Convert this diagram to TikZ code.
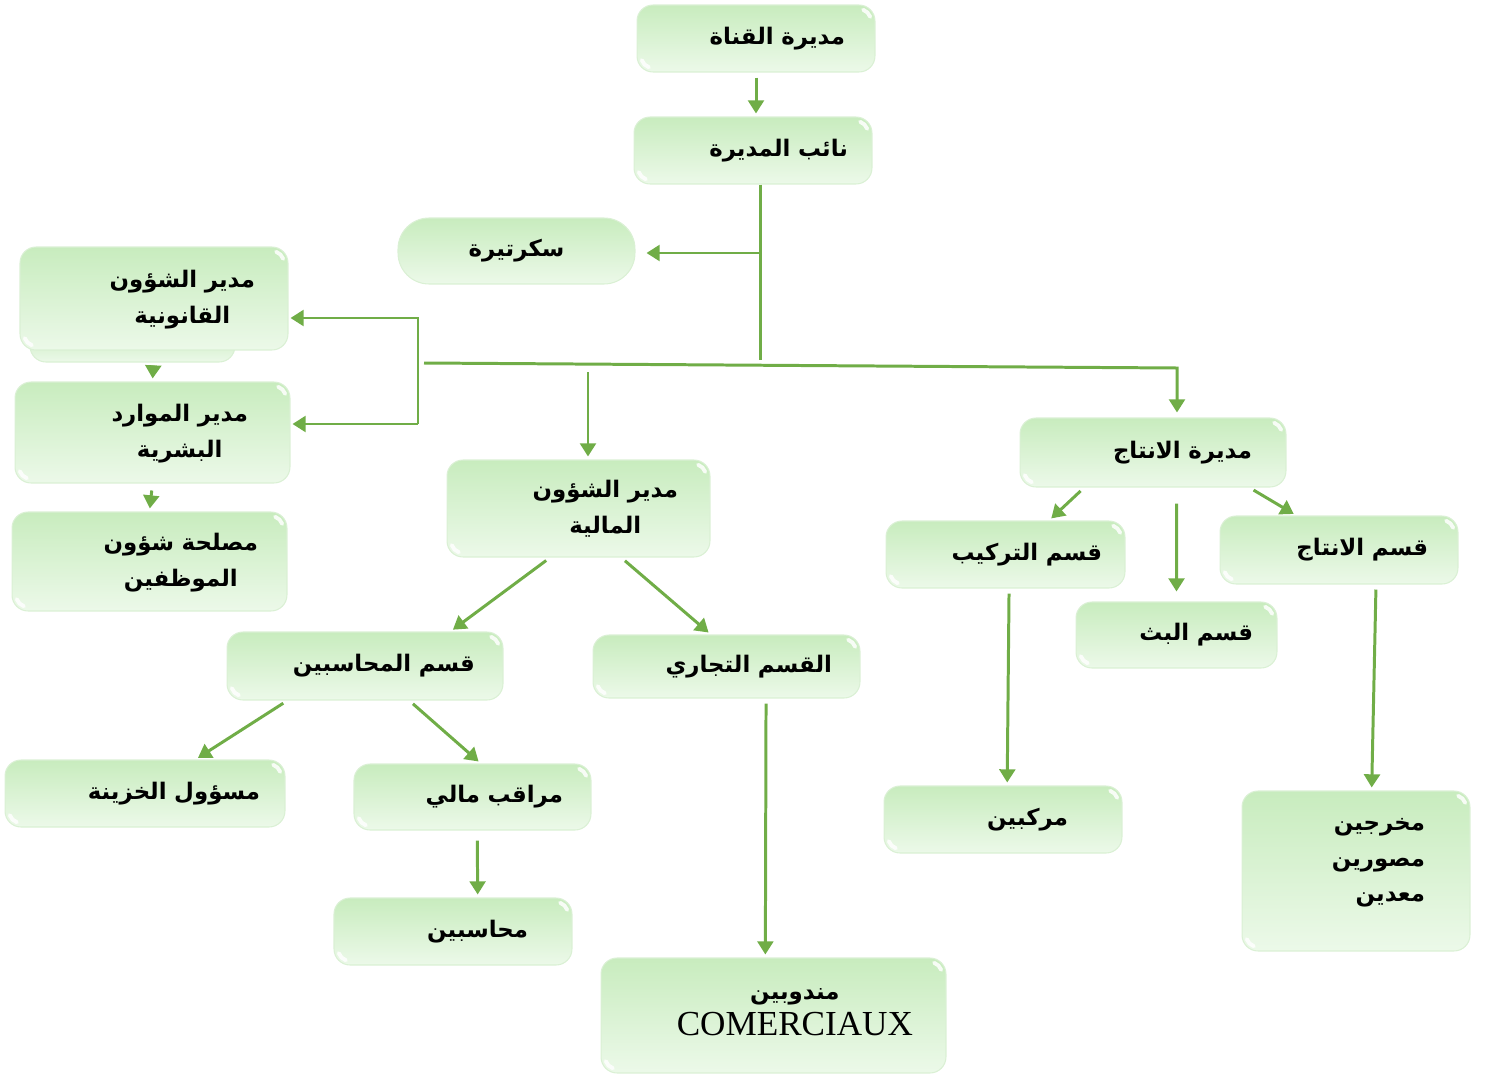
\documentclass[tikz,border=0pt]{standalone}
\usepackage{fontspec}
\usepackage{tikz}
\usetikzlibrary{arrows.meta}
\TeXXeTstate=1
\setmainfont{Liberation Serif}
\newfontfamily\arabicfont[Script=Arabic]{DejaVu Sans}
\definecolor{linkgreen}{RGB}{112,173,71}
\definecolor{boxtop}{RGB}{200,236,190}
\definecolor{boxbottom}{RGB}{236,249,233}
\definecolor{boxedge}{RGB}{218,240,212}

\begin{document}
\begin{tikzpicture}[x=0.02cm, y=-0.02cm,
        boxfill/.style={draw=boxedge, line width=0.6pt, top color=boxtop, bottom color=boxbottom, rounded corners=0.32cm},
        gloss/.style={white, line width=2.2pt, opacity=0.85, line cap=round},
        box/.style={boxfill, align=right, inner ysep=0pt, font=\arabicfont\bfseries\fontsize{13}{20}\selectfont,
            path picture={
                \draw [gloss] ([xshift=-0.32cm, yshift=-0.32cm]path picture bounding box.north east) ++(20:0.24cm) arc [start angle=20, end angle=70, radius=0.24cm];
                \draw [gloss] ([xshift=0.32cm, yshift=0.32cm]path picture bounding box.south west) ++(200:0.24cm) arc [start angle=200, end angle=250, radius=0.24cm];
            }},
        trunk/.style={draw=linkgreen, line width=1.7pt},
        link/.style={trunk, -{Triangle[length=7.5pt,width=9pt]}, shorten <=0.1cm, shorten >=0.06cm}]
            \useasboundingbox (0,0) rectangle (1485,1075);
            \path [boxfill] (30,330) rectangle (235,362);
            \node [box, text width=3.56cm, inner xsep=0.6cm, minimum height=1.34cm] (qanat) at (756,38.5) {\beginR مديرة القناة\endR};
            \node [box, text width=3.8cm, inner xsep=0.48cm, minimum height=1.34cm] (naib) at (753,150.5) {\beginR نائب المديرة\endR};
            \node [box, align=center, rounded corners=0.62cm, text width=3.54cm, inner xsep=0.6cm, minimum height=1.32cm] (sec) at (516.5,251) {\beginR سكرتيرة\endR};
            \node [box, text width=4.04cm, inner xsep=0.66cm, minimum height=2.06cm] (qanun) at (154,298.5) {\begin{tabular}{@{}c@{}}\beginR مدير الشؤون\endR\\\beginR القانونية\endR\end{tabular}};
            \node [box, text width=3.82cm, inner xsep=0.84cm, minimum height=2.02cm] (mawarid) at (152.5,432.5) {\begin{tabular}{@{}c@{}}\beginR مدير الموارد\endR\\\beginR البشرية\endR\end{tabular}};
            \node [box, text width=4.34cm, inner xsep=0.58cm, minimum height=1.98cm] (maslaha) at (149.5,561.5) {\begin{tabular}{@{}c@{}}\beginR مصلحة شؤون\endR\\\beginR الموظفين\endR\end{tabular}};
            \node [box, text width=3.98cm, inner xsep=0.64cm, minimum height=1.94cm] (maliya) at (578.5,508.5) {\begin{tabular}{@{}c@{}}\beginR مدير الشؤون\endR\\\beginR المالية\endR\end{tabular}};
            \node [box, text width=3.96cm, inner xsep=0.68cm, minimum height=1.38cm] (intaj) at (1153,452.5) {\beginR مديرة الانتاج\endR};
            \node [box, text width=3.86cm, inner xsep=0.46cm, minimum height=1.34cm] (tarkib) at (1005.5,554.5) {\beginR قسم التركيب\endR};
            \node [box, text width=3.56cm, inner xsep=0.6cm, minimum height=1.36cm] (qismintaj) at (1339,550) {\beginR قسم الانتاج\endR};
            \node [box, text width=3.06cm, inner xsep=0.48cm, minimum height=1.32cm] (bath) at (1176.5,635) {\beginR قسم البث\endR};
            \node [box, text width=4.4cm, inner xsep=0.56cm, minimum height=1.36cm] (muhasaba) at (365,666) {\beginR قسم المحاسبين\endR};
            \node [box, text width=4.22cm, inner xsep=0.56cm, minimum height=1.26cm] (tijari) at (726.5,666.5) {\beginR القسم التجاري\endR};
            \node [box, text width=4.6cm, inner xsep=0.5cm, minimum height=1.34cm] (khazina) at (145,793.5) {\beginR مسؤول الخزينة\endR};
            \node [box, text width=3.62cm, inner xsep=0.56cm, minimum height=1.32cm] (muraqib) at (472.5,797) {\beginR مراقب مالي\endR};
            \node [box, text width=3cm, inner xsep=0.88cm, minimum height=1.34cm] (muhasibin) at (453,931.5) {\beginR محاسبين\endR};
            \node [box, text width=5.58cm, inner xsep=0.66cm, minimum height=2.3cm] (mandubin) at (773.5,1015.5) {\raisebox{0.1cm}[\height][\depth]{\begin{tabular}{@{}c@{}}\beginR مندوبين\endR\\{\rmfamily\mdseries\fontsize{20}{21}\selectfont COMERCIAUX}\end{tabular}}};
            \node [box, text width=2.6cm, inner xsep=1.08cm, minimum height=1.34cm] (murakkibin) at (1003,819.5) {\beginR مركبين\endR};
            \node [box, text width=2.76cm, inner xsep=0.9cm, minimum height=3.2cm] (mukhrijin) at (1356,871) {\raisebox{0.24cm}[\height][\depth]{\begin{tabular}{@{}r@{}}\beginR مخرجين\endR\\\beginR مصورين\endR\\\beginR معدين\endR\end{tabular}}};
            \coordinate (secjoin) at (760,253);
            \coordinate (busjoin) at (760,360);
            \coordinate (busleft) at (424,363);
            \coordinate (busright) at (1177,368);
            \coordinate (legaltop) at (418,318);
            \coordinate (legalbottom) at (418,424);
            \coordinate (finjoin) at (588,372);
            \draw [link] (qanat.south) -- (qanat.south |- naib.north);
            \draw [trunk] (naib.south -| busjoin) -- (busjoin);
            \draw [link, shorten <=0pt, shorten >=0.22cm] (secjoin) -- (sec.east |- secjoin);
            \draw [link, shorten <=0pt, shorten >=0.1cm] (busleft) -- (busright) -- (busright |- intaj.north);
            \draw [link, shorten <=0pt, shorten >=0.04cm] (legalbottom) -- (legaltop) -- (qanun.east |- legaltop);
            \draw [link, shorten <=0pt, shorten >=0.04cm] (legalbottom) -- (mawarid.east |- legalbottom);
            \draw [link, shorten <=0pt] (finjoin) -- (maliya.north -| finjoin);
            \draw [link, shorten <=0.3cm] (qanun.south) -- (mawarid.north);
            \draw [link, shorten <=0.14cm] (mawarid.south) -- (maslaha.north);
            \draw [link] (maliya.240) -- (muhasaba.22);
            \draw [link] (maliya.311) -- (tijari.116);
            \draw [link] (muhasaba.204) -- (khazina.34);
            \draw [link] (muhasaba.322) -- (muraqib.76);
            \draw [link, shorten <=0.2cm] (muraqib.278) -- (muhasibin.54);
            \draw [link] (tijari.321) -- (mandubin.98);
            \draw [link] (intaj.207) -- (tarkib.38);
            \draw [link, shorten <=0.32cm, shorten >=0.2cm] (intaj.304) -- (bath.north);
            \draw [link] (intaj.340) -- (qismintaj.141);
            \draw [link] (tarkib.276) -- (murakkibin.83);
            \draw [link] (qismintaj.317) -- (mukhrijin.79);
        \end{tikzpicture}
\end{document}
